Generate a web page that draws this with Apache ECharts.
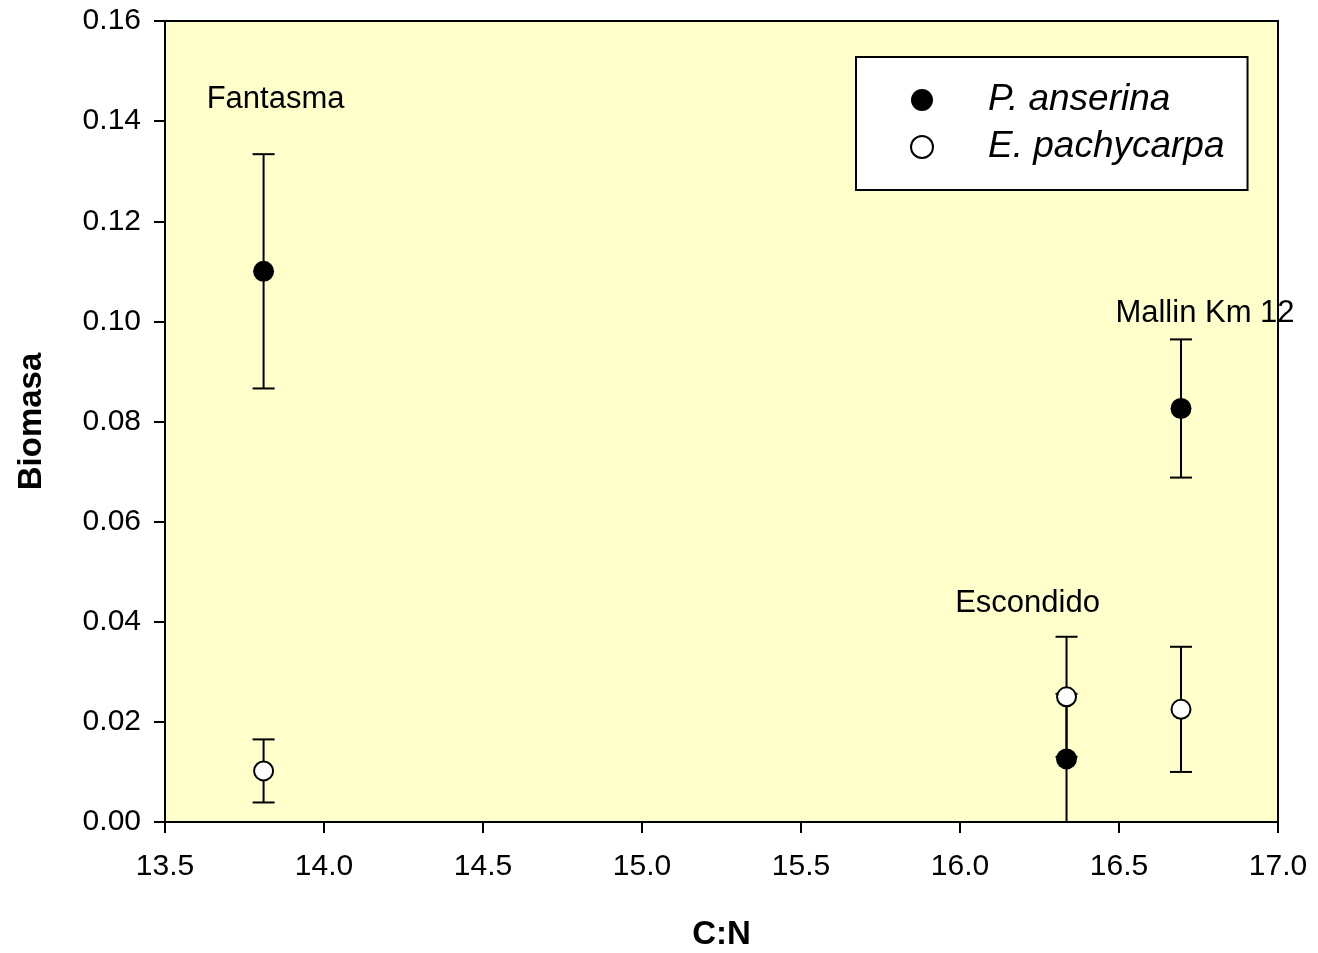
<!DOCTYPE html>
<html>
<head>
<meta charset="utf-8">
<script src="https://cdn.jsdelivr.net/npm/echarts@6/dist/echarts.min.js"></script>
<style>
html,body{margin:0;padding:0;background:#fff;}
#chart{width:1318px;height:953px;}
</style>
</head>
<body>
<div id="chart"></div>
<script>
// ---- data ----
const sites = ['Fantasma', 'Escondido', 'Mallin Km 12'];
const cn = [13.81, 16.335, 16.695];
const anserinaMean = [0.1100, 0.0126, 0.0826];
const anserinaErr = [0.0234, 0.0130, 0.0138];
const pachyMean = [0.0102, 0.0250, 0.0225];
const pachyErr = [0.0063, 0.0120, 0.0125];
const xTicks = [13.5, 14.0, 14.5, 15.0, 15.5, 16.0, 16.5, 17.0];
const yTicks = [0, 0.02, 0.04, 0.06, 0.08, 0.10, 0.12, 0.14, 0.16];

const FONT = '"Liberation Sans", Arial, sans-serif';
const chart = echarts.init(document.getElementById('chart'), null, {renderer: 'canvas'});

function errData(means, errs) {
  return cn.map((x, i) => [x, means[i], means[i] - errs[i], means[i] + errs[i]]);
}
function errRender(params, api) {
  const x = api.value(0);
  const lo = api.coord([x, api.value(2)]);
  const hi = api.coord([x, api.value(3)]);
  const cw = 11;
  const st = {stroke: '#000', lineWidth: 2};
  return {
    type: 'group',
    children: [
      {type: 'line', shape: {x1: lo[0], y1: lo[1], x2: hi[0], y2: hi[1]}, style: st},
      {type: 'line', shape: {x1: lo[0] - cw, y1: lo[1], x2: lo[0] + cw, y2: lo[1]}, style: st},
      {type: 'line', shape: {x1: hi[0] - cw, y1: hi[1], x2: hi[0] + cw, y2: hi[1]}, style: st}
    ]
  };
}
const labelOffsets = [[12, -172], [-39, -155], [24, -95]];

const option = {
  animation: false,
  backgroundColor: '#ffffff',
  grid: {
    left: 165, right: 40, top: 21, bottom: 131,
    outerBoundsMode: 'none', containLabel: false,
    show: true, backgroundColor: '#FFFFCC', borderColor: '#000', borderWidth: 2
  },
  xAxis: {
    type: 'value', min: 13.5, max: 17.0, interval: 0.5,
    name: 'C:N', nameLocation: 'middle', nameGap: 96,
    nameTextStyle: {fontFamily: FONT, fontSize: 33, fontWeight: 'bold', color: '#000'},
    axisLine: {show: true, lineStyle: {color: '#000', width: 2}},
    axisTick: {show: true, length: 11, lineStyle: {color: '#000', width: 2}},
    axisLabel: {fontFamily: FONT, fontSize: 30, color: '#000', margin: 30,
      formatter: v => xTicks.includes(+v.toFixed(1)) ? v.toFixed(1) : ''},
    splitLine: {show: false}
  },
  yAxis: {
    type: 'value', min: 0, max: 0.16, interval: 0.02,
    name: 'Biomasa', nameLocation: 'middle', nameGap: 117,
    nameTextStyle: {fontFamily: FONT, fontSize: 33, fontWeight: 'bold', color: '#000'},
    axisLine: {show: true, lineStyle: {color: '#000', width: 2}},
    axisTick: {show: true, length: 11, lineStyle: {color: '#000', width: 2}},
    axisLabel: {fontFamily: FONT, fontSize: 30, color: '#000', margin: 24,
      formatter: v => yTicks.some(t => Math.abs(t - v) < 1e-9) ? v.toFixed(2) : ''},
    splitLine: {show: false}
  },
  legend: {
    orient: 'vertical', left: 856, top: 57,
    padding: [23, 23, 23, 54], itemGap: 7,
    backgroundColor: '#fff', borderColor: '#000', borderWidth: 2, borderRadius: 0,
    itemWidth: 22, itemHeight: 22,
    textStyle: {fontFamily: FONT, fontSize: 37, fontStyle: 'italic', color: '#000',
      padding: [0, 0, 0, 50], lineHeight: 40},
    data: ['P. anserina', 'E. pachycarpa']
  },
  series: [
    {
      name: 'P. anserina err', type: 'custom', renderItem: errRender,
      data: errData(anserinaMean, anserinaErr), z: 2, clip: true,
      encode: {x: 0, y: [2, 3]}, silent: true
    },
    {
      name: 'E. pachycarpa err', type: 'custom', renderItem: errRender,
      data: errData(pachyMean, pachyErr), z: 2, clip: true,
      encode: {x: 0, y: [2, 3]}, silent: true
    },
    {
      name: 'E. pachycarpa', type: 'scatter', symbol: 'circle', symbolSize: 19, z: 4,
      itemStyle: {color: '#fff', borderColor: '#000', borderWidth: 2, opacity: 1},
      data: cn.map((x, i) => [x, pachyMean[i]])
    },
    {
      name: 'P. anserina', type: 'scatter', symbol: 'circle', symbolSize: 21, z: 5,
      itemStyle: {color: '#000', opacity: 1},
      data: cn.map((x, i) => ({
        value: [x, anserinaMean[i]],
        label: {
          show: true, position: 'inside', offset: labelOffsets[i],
          formatter: sites[i], fontFamily: FONT, fontSize: 31, color: '#000'
        }
      }))
    }
  ]
};
chart.setOption(option);
</script>
</body>
</html>
